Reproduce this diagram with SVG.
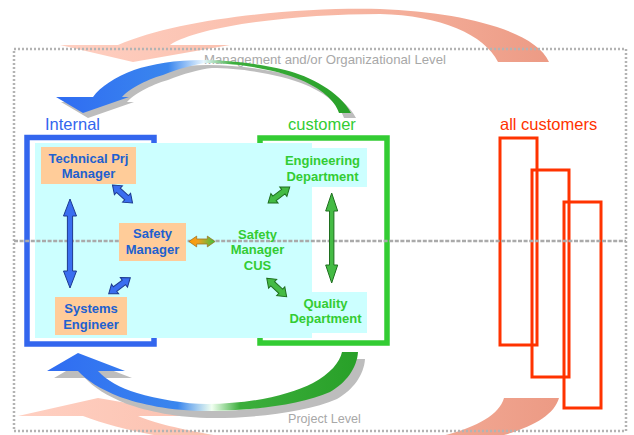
<svg xmlns="http://www.w3.org/2000/svg" xmlns:xlink="http://www.w3.org/1999/xlink" width="634" height="435" viewBox="0 0 634 435">
<style>
.lvl{font-family:"Liberation Sans",Arial,sans-serif;font-size:13.2px;fill:#a8a8a8}
.hdr{font-family:"Liberation Sans",Arial,sans-serif;font-size:16.5px}
.nt{font-family:"Liberation Sans",Arial,sans-serif;font-size:13px;font-weight:bold;text-anchor:middle}
.nb{fill:#2060d0}
.ng{fill:#33cc33}
.box{fill:#ffcc99}
.cy{fill:#ccffff}
.frame{fill:none;stroke-width:5.5}
.red{fill:none;stroke:#ff3300;stroke-width:3}
.ba{fill:#3a6ef0;stroke:#1d3a8f;stroke-width:1}
.ga{fill:#44bb44;stroke:#1f6f1f;stroke-width:1}
.shadow{fill:#bdbdbd}
</style>
<defs>
<linearGradient id="salmonTop" gradientUnits="userSpaceOnUse" x1="60" y1="0" x2="555" y2="0">
<stop offset="0" stop-color="#ffd0c2"/><stop offset="0.5" stop-color="#f9bba8"/><stop offset="1" stop-color="#ec9a84"/>
</linearGradient>
<linearGradient id="salmonBot" gradientUnits="userSpaceOnUse" x1="18" y1="0" x2="560" y2="0">
<stop offset="0" stop-color="#ffd0c2"/><stop offset="0.5" stop-color="#f9bba8"/><stop offset="1" stop-color="#ec9a84"/>
</linearGradient>
<linearGradient id="bgTop" gradientUnits="userSpaceOnUse" x1="56" y1="0" x2="351" y2="0">
<stop offset="0" stop-color="#2f6cf2"/><stop offset="0.38" stop-color="#3a86ee"/><stop offset="0.5" stop-color="#e8f6ff"/><stop offset="0.6" stop-color="#3cae3c"/><stop offset="1" stop-color="#28a028"/>
</linearGradient>
<linearGradient id="bgBot" gradientUnits="userSpaceOnUse" x1="47" y1="0" x2="358" y2="0">
<stop offset="0" stop-color="#2f6cf2"/><stop offset="0.42" stop-color="#3a86ee"/><stop offset="0.53" stop-color="#f0fff0"/><stop offset="0.62" stop-color="#3cae3c"/><stop offset="1" stop-color="#28a028"/>
</linearGradient>
<linearGradient id="og" x1="0" y1="0" x2="1" y2="0">
<stop offset="0" stop-color="#ff9900"/><stop offset="0.35" stop-color="#f0a020"/><stop offset="1" stop-color="#3cc03c"/>
</linearGradient>
<path id="dblShort" d="M-13.5,0 L-5.5,-6 L-5.5,-2.8 L5.5,-2.8 L5.5,-6 L13.5,0 L5.5,6 L5.5,2.8 L-5.5,2.8 L-5.5,6 Z"/>
<path id="topArc" d="M339,113 L351,113 C340,92 310,76 285,70 C260,64 230,60 203,60 C175,60 152,64 134,70 C115,77 100,87 93,97 L56,97 L83,113 L129,97 L122,97 C128,90 145,80 163,75 C178,69 195,64 207,63 C235,63 275,69 301,80 C320,88 335,100 339,113 Z"/>
<path id="botArc" d="M342,352 L358,352 C357,368 346,383 330,392 C300,405 250,411 207,411 C170,411 140,404 120,397 C100,389 86,380 78,371 L47,371 L78,353 L125,371 L98,371 C106,380 120,388 137,393 C157,399 185,404 207,404 C250,404 290,395 313,383 C330,374 340,362 342,352 Z"/>
</defs>

<g id="level-arrows">
<path d="M549,62 C535,30 460,12 380,9 C300,7 180,18 118,45 L60,45 L133,62 L230,45 L170,45 C200,25 300,14 380,14 C440,15 485,35 498,62 Z" fill="url(#salmonTop)"/>
<path d="M559,398 C550,430 480,446 390,452 C300,456 160,445 83,416 L18,416 L98,398 L203,416 L138,416 C170,430 260,445 330,447 C420,447 495,430 504,398 Z" fill="url(#salmonBot)"/>
</g>

<rect x="14" y="49" width="612" height="382" fill="none" stroke="#b3b3b3" stroke-width="2.5" stroke-dasharray="2 2"/>
<text class="lvl" x="204" y="64">Management and/or Organizational Level</text>
<text class="lvl" x="288" y="423" style="font-size:12.6px">Project Level</text>

<g id="loop-arrows">
<use href="#topArc" class="shadow" transform="translate(5,5)"/>
<use href="#topArc" fill="url(#bgTop)"/>
<use href="#botArc" class="shadow" transform="translate(7,7)"/>
<use href="#botArc" fill="url(#bgBot)"/>
</g>

<text class="hdr" x="45" y="130" fill="#3366ee">Internal</text>
<text class="hdr" x="288" y="130" fill="#33cc33">customer</text>
<text class="hdr" x="500" y="130" fill="#ff3300">all customers</text>

<rect class="frame" x="27" y="137.5" width="127" height="206.5" stroke="#3366ee"/>
<rect class="frame" x="260" y="138" width="127" height="205" stroke="#33cc33"/>
<rect class="cy" x="35" y="143" width="277" height="195"/>
<rect class="cy" x="283" y="148" width="84" height="39"/>
<rect class="cy" x="300" y="292" width="67" height="41"/>

<g id="all-customers">
<rect class="red" x="500" y="138" width="37" height="207"/>
<rect class="red" x="532" y="170" width="37" height="207"/>
<rect class="red" x="564" y="202" width="37" height="206"/>
</g>

<line x1="14" y1="241" x2="626" y2="241" stroke="#aaaaaa" stroke-width="2.5" stroke-dasharray="4 1.6"/>

<g id="connectors">
<path class="ba" d="M-44.5,0 L-27.5,-6.5 L-27.5,-2.6 L27.5,-2.6 L27.5,-6.5 L44.5,0 L27.5,6.5 L27.5,2.6 L-27.5,2.6 L-27.5,6.5 Z" transform="translate(70,243.5) rotate(90)"/>
<use href="#dblShort" class="ba" transform="translate(122.5,194) rotate(42)"/>
<use href="#dblShort" class="ba" transform="translate(119.5,285.7) rotate(-36.7)"/>
<use href="#dblShort" fill="url(#og)" stroke="#a07020" stroke-width="0.8" transform="translate(202,241.5) scale(0.97,0.9)"/>
<use href="#dblShort" class="ga" transform="translate(278.9,195) rotate(-36.7)"/>
<use href="#dblShort" class="ga" transform="translate(276.7,287.5) rotate(42.6)"/>
<path class="ga" d="M-45,0 L-27,-6 L-27,-2.2 L27,-2.2 L27,-6 L45,0 L27,6 L27,2.2 L-27,2.2 L-27,6 Z" transform="translate(331.7,238) rotate(90)"/>
</g>

<g id="technical-prj-manager">
<rect class="box" x="41" y="147" width="95" height="37"/>
<text class="nt nb" x="88.5" y="162.5">Technical Prj</text>
<text class="nt nb" x="88.5" y="178">Manager</text>
</g>
<g id="safety-manager">
<rect class="box" x="119" y="223" width="67" height="38"/>
<text class="nt nb" x="152.5" y="238">Safety</text>
<text class="nt nb" x="152.5" y="253.5">Manager</text>
</g>
<g id="systems-engineer">
<rect class="box" x="55" y="297" width="72" height="38"/>
<text class="nt nb" x="91" y="313">Systems</text>
<text class="nt nb" x="91" y="328.5">Engineer</text>
</g>
<g id="engineering-department">
<text class="nt ng" x="322.5" y="165">Engineering</text>
<text class="nt ng" x="322.5" y="180.5">Department</text>
</g>
<g id="safety-manager-cus">
<text class="nt ng" x="257.5" y="238.5">Safety</text>
<text class="nt ng" x="257.5" y="254">Manager</text>
<text class="nt ng" x="257.5" y="269.5">CUS</text>
</g>
<g id="quality-department">
<text class="nt ng" x="325.5" y="307.5">Quality</text>
<text class="nt ng" x="325.5" y="323">Department</text>
</g>
</svg>
